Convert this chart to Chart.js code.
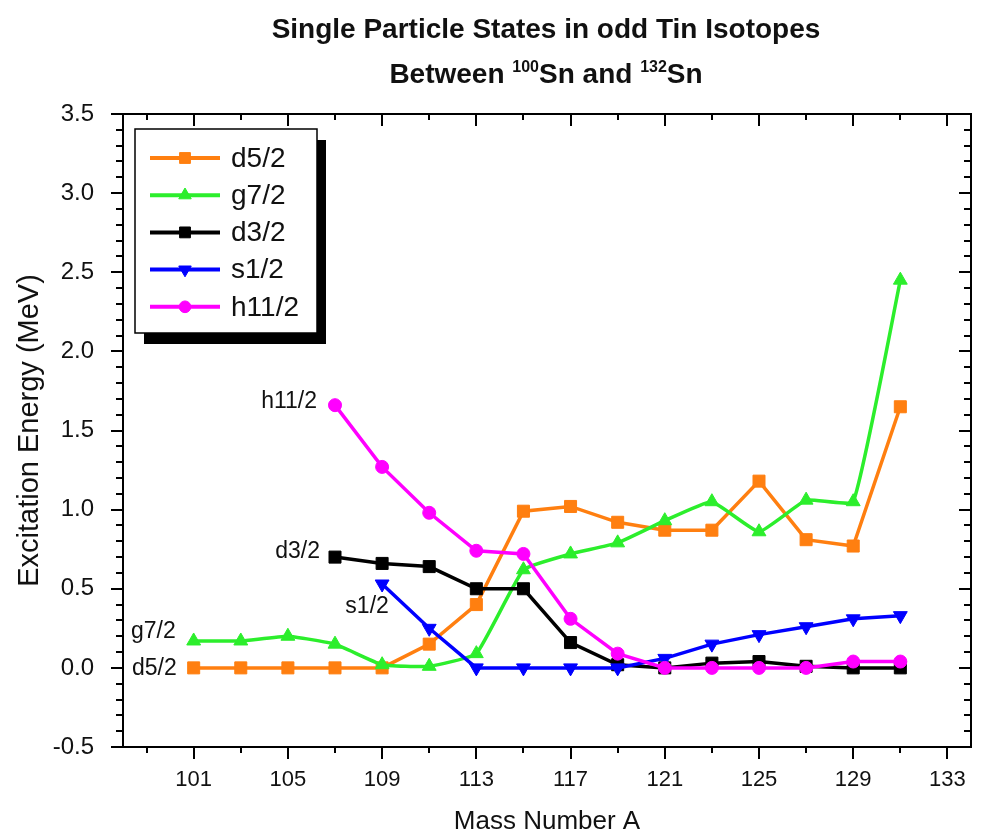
<!DOCTYPE html>
<html>
<head>
<meta charset="utf-8">
<script src="https://cdn.jsdelivr.net/npm/chart.js@4.4.0/dist/chart.umd.min.js"></script>
<style>
html,body{margin:0;padding:0;background:#fff;}
#wrap{position:relative;width:982px;height:839px;}
</style>
</head>
<body>
<div id="wrap"><canvas id="c" width="982" height="839"></canvas></div>
<script>
// ---------- data ----------
const massNumbers = [101,103,105,107,109,111,113,115,117,119,121,123,125,127,129,131];
const d52  = [0.00,0.00,0.00,0.00,0.00,0.15,0.40,0.99,1.02,0.92,0.87,0.87,1.18,0.81,0.77,1.65];
const g72  = [0.17,0.17,0.20,0.15,0.02,0.01,0.09,0.62,0.72,0.79,0.93,1.05,0.86,1.06,1.05,2.45];
const d32  = [null,null,null,0.70,0.66,0.64,0.50,0.50,0.16,0.02,0.00,0.03,0.04,0.01,0.00,0.00];
const s12  = [null,null,null,null,0.53,0.25,0.00,0.00,0.00,0.00,0.06,0.15,0.21,0.26,0.31,0.33];
const h112 = [null,null,null,1.66,1.27,0.98,0.74,0.72,0.31,0.09,0.00,0.00,0.00,0.00,0.04,0.04];

const seriesNames = ['d5/2','g7/2','d3/2','s1/2','h11/2'];
const seriesValues = [d52,g72,d32,s12,h112];

const titleLine1 = 'Single Particle States in odd Tin Isotopes';
const titleLine2Parts = [
  {text:'Between ', sup:false},
  {text:'100', sup:true},
  {text:'Sn and ', sup:false},
  {text:'132', sup:true},
  {text:'Sn', sup:false}
];
const xAxisTitle = 'Mass Number A';
const yAxisTitle = 'Excitation Energy (MeV)';

const xTickLabels = [101,105,109,113,117,121,125,129,133];
const xMinorTicks = [99,101,103,105,107,109,111,113,115,117,119,121,123,125,127,129,131,133];
const yTickLabels = [-0.5,0.0,0.5,1.0,1.5,2.0,2.5,3.0,3.5];
const X_MIN = 98, X_MAX = 134, Y_MIN = -0.5, Y_MAX = 3.5;

// ---------- styles ----------
const FONT = "'Liberation Sans', Arial, Helvetica, sans-serif";
const seriesColors = ['#FF7F10','#2CEE2C','#000000','#0000FF','#FF00FF'];
const pointStyles = ['rect','triangle','rect','triangle','circle'];
const pointRotations = [0,0,0,180,0];
const pointRadii = [8.5,8,8.5,8,6.5];
const annotationStyle = [
  {dx:-17, dy:1,  align:'right'},
  {dx:-18, dy:-9, align:'right'},
  {dx:-15, dy:-5, align:'right'},
  {dx:-15, dy:23, align:'center'},
  {dx:-18, dy:-4, align:'right'}
];

const yMinorTicks = [];
for (let k = 0; k <= 40; k++) yMinorTicks.push(Math.round((Y_MIN + 0.1*k)*10)/10);

const datasets = seriesNames.map((name,i)=>({
  label: name,
  data: massNumbers.map((a,j)=>({x:a, y:seriesValues[i][j]})).filter(p=>p.y!==null),
  borderColor: seriesColors[i],
  backgroundColor: seriesColors[i],
  borderWidth: 3.5,
  pointStyle: pointStyles[i],
  pointRotation: pointRotations[i],
  pointRadius: pointRadii[i],
  pointHoverRadius: pointRadii[i],
  pointBackgroundColor: seriesColors[i],
  pointBorderColor: seriesColors[i],
  pointBorderWidth: 1,
  tension: i===1 ? 0.12 : 0,
  order: 5 - i,
  clip: false
}));

function drawMarker(ctx, style, rot, r, x, y, color) {
  ctx.fillStyle = color; ctx.strokeStyle = color; ctx.lineWidth = 1;
  if (Chart.helpers && Chart.helpers.drawPoint) {
    Chart.helpers.drawPoint(ctx, {pointStyle:style, rotation:rot, radius:r, borderWidth:1}, x, y);
  } else {
    ctx.beginPath(); ctx.arc(x,y,r,0,Math.PI*2); ctx.fill();
  }
}

const decor = {
  id: 'decor',
  afterDraw(chart) {
    const ctx = chart.ctx;
    const {left, right, top, bottom} = chart.chartArea;
    const xs = chart.scales.x, ys = chart.scales.y;
    ctx.save();
    // frame
    ctx.strokeStyle = '#000'; ctx.lineWidth = 2;
    ctx.strokeRect(left, top, right-left, bottom-top);
    // tick marks
    ctx.beginPath();
    xMinorTicks.forEach(v=>{
      const px = Math.round(xs.getPixelForValue(v)) ;
      const L = xTickLabels.includes(v) ? 12 : 6;
      ctx.moveTo(px, bottom); ctx.lineTo(px, bottom+L);
      ctx.moveTo(px, top); ctx.lineTo(px, top+L);
    });
    yMinorTicks.forEach(v=>{
      const py = Math.round(ys.getPixelForValue(v));
      const L = yTickLabels.some(m=>Math.abs(m-v)<1e-6) ? 12 : 7;
      ctx.moveTo(left-L, py); ctx.lineTo(left, py);
      ctx.moveTo(right-L, py); ctx.lineTo(right, py);
    });
    ctx.stroke();

    // title
    ctx.fillStyle = '#111';
    ctx.textBaseline = 'alphabetic';
    ctx.textAlign = 'center';
    ctx.font = 'bold 28px ' + FONT;
    const cx = 546;
    ctx.fillText(titleLine1, cx, 38);
    let total = 0;
    titleLine2Parts.forEach(p=>{
      ctx.font = (p.sup ? 'bold 16px ' : 'bold 28px ') + FONT;
      p.w = ctx.measureText(p.text).width; total += p.w;
    });
    let xx = cx - total/2;
    ctx.textAlign = 'left';
    titleLine2Parts.forEach(p=>{
      ctx.font = (p.sup ? 'bold 16px ' : 'bold 28px ') + FONT;
      ctx.fillText(p.text, xx, p.sup ? 72 : 83);
      xx += p.w;
    });

    // axis titles
    ctx.textAlign = 'center'; ctx.textBaseline = 'middle';
    ctx.font = '26px ' + FONT;
    ctx.fillText(xAxisTitle, (left+right)/2, 822);
    ctx.save();
    ctx.translate(30, (top+bottom)/2);
    ctx.rotate(-Math.PI/2);
    ctx.font = '29px ' + FONT;
    ctx.fillText(yAxisTitle, 0, 0);
    ctx.restore();

    // series annotations at first point
    ctx.font = '23px ' + FONT;
    ctx.fillStyle = '#111';
    seriesValues.forEach((vals,i)=>{
      const j = vals.findIndex(v=>v!==null);
      const px = xs.getPixelForValue(massNumbers[j]);
      const py = ys.getPixelForValue(vals[j]);
      const st = annotationStyle[i];
      ctx.textAlign = st.align;
      ctx.fillText(seriesNames[i], px + st.dx, py + st.dy);
    });

    // legend box with shadow
    const lg = {x:left+12, y:top+15, w:182, h:204, sdx:9, sdy:11};
    ctx.fillStyle = '#000';
    ctx.fillRect(lg.x+lg.sdx, lg.y+lg.sdy, lg.w, lg.h);
    ctx.fillStyle = '#fff';
    ctx.fillRect(lg.x, lg.y, lg.w, lg.h);
    ctx.strokeStyle = '#000'; ctx.lineWidth = 1.5;
    ctx.strokeRect(lg.x, lg.y, lg.w, lg.h);
    seriesNames.forEach((name,i)=>{
      const ry = lg.y + 29 + i*37.2;
      ctx.strokeStyle = seriesColors[i]; ctx.lineWidth = 4;
      ctx.beginPath(); ctx.moveTo(lg.x+15, ry); ctx.lineTo(lg.x+85, ry); ctx.stroke();
      drawMarker(ctx, pointStyles[i], pointRotations[i], pointRadii[i]*0.9, lg.x+50, ry, seriesColors[i]);
      ctx.fillStyle = '#111';
      ctx.textAlign = 'left'; ctx.textBaseline = 'middle';
      ctx.font = '28px ' + FONT;
      ctx.fillText(name, lg.x+96, ry+1);
    });
    ctx.restore();
  }
};

new Chart(document.getElementById('c'), {
  type: 'line',
  data: { datasets },
  options: {
    responsive: false,
    devicePixelRatio: 1,
    animation: false,
    events: [],
    layout: { padding: { top: 114, right: 11, left: 0, bottom: 0 } },
    plugins: { legend: {display:false}, title: {display:false}, tooltip: {enabled:false} },
    scales: {
      x: {
        type: 'linear', min: X_MIN, max: X_MAX,
        grid: { display: false },
        border: { display: false },
        afterBuildTicks: s => { s.ticks = xTickLabels.map(v=>({value:v})); },
        afterFit: s => { s.height = 92; },
        ticks: {
          autoSkip: false, maxRotation: 0, padding: 12,
          color: '#111', font: { family: FONT, size: 22 },
          callback: v => String(v)
        }
      },
      y: {
        type: 'linear', min: Y_MIN, max: Y_MAX,
        grid: { display: false },
        border: { display: false },
        afterBuildTicks: s => { s.ticks = yTickLabels.map(v=>({value:v})); },
        afterFit: s => { s.width = 123; },
        ticks: {
          autoSkip: false, padding: 21,
          color: '#111', font: { family: FONT, size: 24 },
          callback: v => Number(v).toFixed(1)
        }
      }
    }
  },
  plugins: [decor]
});
</script>
</body>
</html>
